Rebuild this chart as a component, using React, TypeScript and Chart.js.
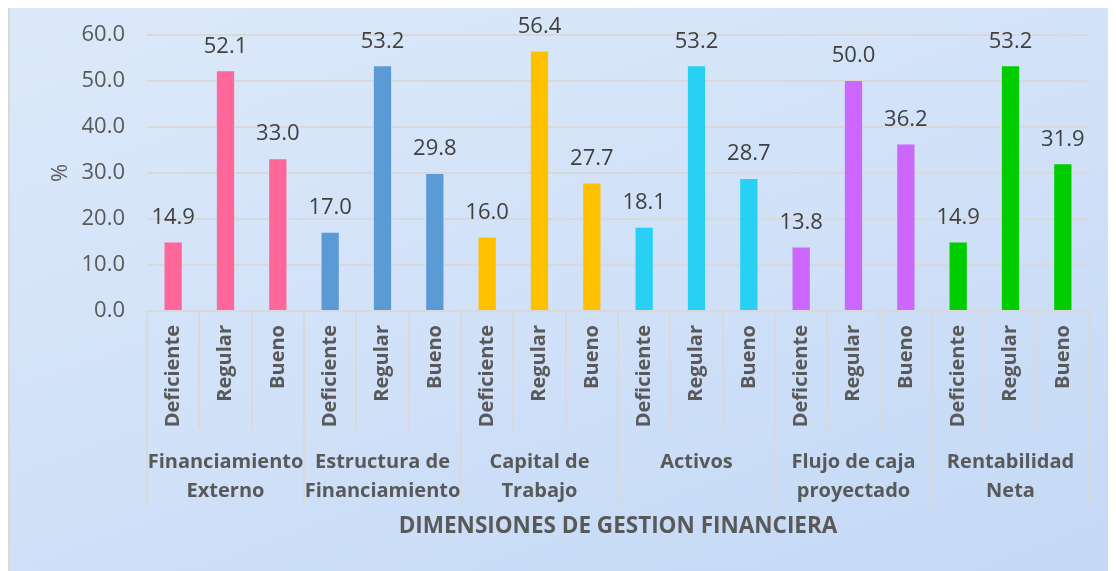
import React, { useEffect, useRef } from "react";
import { Chart, registerables } from "chart.js";

Chart.register(...registerables);

const groups: string[][] = [
  ["Financiamiento", "Externo"],
  ["Estructura de", "Financiamiento"],
  ["Capital de", "Trabajo"],
  ["Activos"],
  ["Flujo de caja", "proyectado"],
  ["Rentabilidad", "Neta"],
];
const levels: string[] = ["Deficiente", "Regular", "Bueno"];
const financiamientoExterno = [14.9, 52.1, 33.0];
const estructuraFinanciamiento = [17.0, 53.2, 29.8];
const capitalTrabajo = [16.0, 56.4, 27.7];
const activos = [18.1, 53.2, 28.7];
const flujoCaja = [13.8, 50.0, 36.2];
const rentabilidadNeta = [14.9, 53.2, 31.9];
const groupColors = ["#FF6699", "#5B9BD5", "#FFC000", "#28D0F4", "#CC66FF", "#00CC00"];
const yTicks = [0, 10, 20, 30, 40, 50, 60];
const xTitle = "DIMENSIONES DE GESTION FINANCIERA";
const yTitle = "%";

const allGroups = [
  financiamientoExterno,
  estructuraFinanciamiento,
  capitalTrabajo,
  activos,
  flujoCaja,
  rentabilidadNeta,
];

const FONT = '"Open Sans", sans-serif';

const groupAxisPlugin = {
  id: "groupAxis",
  afterDraw(chart: any) {
    const { ctx, chartArea } = chart;
    const x = chart.scales.x;
    const y = chart.scales.y;
    const base = chartArea.bottom;
    const n = chart.data.labels.length;
    ctx.save();
    // separators
    ctx.strokeStyle = "#d9d9d9";
    ctx.lineWidth = 2;
    for (let i = 0; i <= n; i++) {
      const px = Math.round(x.getPixelForValue(i - 0.5));
      const isGroup = i % levels.length === 0;
      ctx.beginPath();
      ctx.moveTo(px, base);
      ctx.lineTo(px, base + (isGroup ? 194 : 119));
      ctx.stroke();
    }
    // inner rotated labels
    ctx.fillStyle = "#595959";
    ctx.font = `bold 20px ${FONT}`;
    for (let i = 0; i < n; i++) {
      const px = x.getPixelForValue(i);
      ctx.save();
      ctx.translate(px, base + 14);
      ctx.rotate(-Math.PI / 2);
      ctx.textAlign = "right";
      ctx.textBaseline = "middle";
      ctx.fillText(levels[i % levels.length], 0, 0);
      ctx.restore();
    }
    // group labels
    ctx.textAlign = "center";
    ctx.textBaseline = "middle";
    groups.forEach((lines, g) => {
      const l = x.getPixelForValue(g * 3 - 0.5);
      const r = x.getPixelForValue(g * 3 + 2.5);
      const cx = (l + r) / 2;
      lines.forEach((t, k) => {
        ctx.fillText(t, cx, base + 151 + k * 29);
      });
    });
    // axis title
    ctx.font = `bold 22.5px ${FONT}`;
    ctx.fillText(xTitle, (chartArea.left + chartArea.right) / 2, base + 216);
    // data labels
    ctx.font = `22px ${FONT}`;
    ctx.fillStyle = "#404040";
    const data = chart.data.datasets[0].data as number[];
    data.forEach((v, i) => {
      ctx.fillText(v.toFixed(1), x.getPixelForValue(i), y.getPixelForValue(v) - 25);
    });
    ctx.restore();
  },
};

export default function App() {
  const ref = useRef<HTMLCanvasElement | null>(null);
  useEffect(() => {
    if (!ref.current) return;
    const labels: string[] = [];
    const values: number[] = [];
    const colors: string[] = [];
    allGroups.forEach((arr, g) => {
      arr.forEach((v, k) => {
        labels.push(levels[k]);
        values.push(v);
        colors.push(groupColors[g]);
      });
    });
    const chart = new Chart(ref.current, {
      type: "bar",
      data: {
        labels,
        datasets: [
          {
            data: values,
            backgroundColor: colors,
            borderWidth: 0,
            categoryPercentage: 1,
            barPercentage: 0.33,
          },
        ],
      },
      options: {
        responsive: false,
        animation: false,
        layout: { padding: { left: 34, top: 27, right: 27, bottom: 260 } },
        plugins: { legend: { display: false }, tooltip: { enabled: false } },
        scales: {
          x: { display: false },
          y: {
            min: yTicks[0],
            max: yTicks[yTicks.length - 1],
            afterFit: (s: any) => {
              s.width = 103;
            },
            afterBuildTicks: (s: any) => {
              s.ticks = yTicks.map((v) => ({ value: v }));
            },
            border: { display: false },
            grid: {
              color: "#d9d9d9",
              lineWidth: 2,
              drawTicks: true,
              tickLength: 22,
              tickColor: "rgba(0,0,0,0)",
            },
            ticks: {
              padding: 0,
              color: "#595959",
              font: { family: FONT, size: 22 },
              callback: (v: any) => Number(v).toFixed(1),
            },
            title: {
              display: true,
              text: yTitle,
              color: "#595959",
              font: { family: FONT, size: 22 },
            },
          },
        },
      },
      plugins: [groupAxisPlugin],
    });
    return () => chart.destroy();
  }, []);
  return (
    <div
      style={{
        marginTop: -2,
        width: 1110,
        height: 570,
        border: "2px solid #d9d9d9",
        background: "linear-gradient(160deg, #dde9fa 0%, #c4d9f6 100%)",
        boxSizing: "border-box",
        overflow: "hidden",
      }}
    >
      <canvas ref={ref} width={1106} height={563} style={{ display: "block" }} />
    </div>
  );
}
